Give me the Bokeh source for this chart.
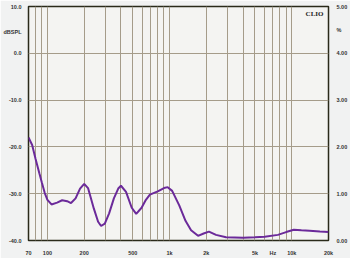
from bokeh.plotting import figure
from bokeh.models import Range1d, LinearAxis, LogAxis, FixedTicker, Label
from bokeh.embed import file_html
from bokeh.resources import INLINE

freq_hz = [70, 75, 80, 86, 90, 95, 100, 108, 120, 132, 145, 156, 170, 185, 200, 215,
           240, 260, 275, 295, 320, 350, 380, 400, 440, 490, 533, 590, 640, 690, 800,
           900, 965, 1050, 1200, 1350, 1500, 1710, 1900, 2100, 2400, 2900, 4000,
           5000, 6000, 7700, 9000, 10400, 12000, 14000, 17000, 20000]
spl_db = [-18.0, -19.6, -22.6, -25.7, -27.6, -29.8, -31.3, -32.3, -31.9, -31.4,
          -31.6, -32.0, -31.0, -28.9, -27.9, -28.8, -33.2, -36.0, -36.9, -36.4,
          -34.2, -31.0, -28.9, -28.3, -29.6, -33.0, -34.3, -33.0, -31.3, -30.2,
          -29.5, -28.8, -28.6, -29.4, -32.5, -35.8, -37.8, -39.0, -38.5, -38.1,
          -38.8, -39.3, -39.4, -39.3, -39.2, -38.8, -38.2, -37.7, -37.8, -37.9,
          -38.1, -38.2]

x_ticks = [70, 100, 200, 500, 1000, 2000, 5000, 7000, 10000, 20000]
x_tick_labels = ["70", "100", "200", "500", "1k", "2k", "5k", "Hz", "10k", "20k"]
x_grid = [80, 90, 100, 200, 300, 400, 500, 600, 700, 800, 900, 1000, 2000, 3000,
          4000, 5000, 6000, 7000, 8000, 9000, 10000, 20000]
y_ticks = [10, 0, -10, -20, -30, -40]
y_tick_labels = ["10.0", "0.0", "-10.0", "-20.0", "-30.0", "-40.0"]
pct_ticks = [0, 1, 2, 3, 4, 5]
pct_tick_labels = ["0.00", "1.00", "2.00", "3.00", "4.00", "5.00"]
y_unit, y_unit_pos = "dBSPL", 4.6
pct_unit, pct_unit_pos = "%", 4.5

FONT = "Liberation Sans"
LBL = "#333333"

p = figure(width=350, height=258, x_axis_type="log", output_backend="svg",
           toolbar_location=None, x_range=Range1d(70, 20000), y_range=Range1d(-40, 10),
           min_border_left=20, min_border_right=17, min_border_top=6, min_border_bottom=13)
p.extra_y_ranges = {"pct": Range1d(0, 5)}
p.background_fill_color = "#f4f4f2"
p.border_fill_color = "#f1f2f2"
p.outline_line_color = "#2a2a1a"
p.outline_line_width = 1.5

p.xaxis.visible = False
p.yaxis.visible = False

def style(ax):
    ax.axis_line_color = None
    ax.major_tick_line_color = None
    ax.minor_tick_line_color = None
    ax.major_label_text_font = FONT
    ax.major_label_text_font_size = "5.5px"
    ax.major_label_text_font_style = "bold"
    ax.major_label_text_color = LBL
    ax.major_label_standoff = 2

xa = LogAxis(ticker=FixedTicker(ticks=x_ticks),
             major_label_overrides={t: l for t, l in zip(x_ticks, x_tick_labels)})
style(xa)
xa.major_label_standoff = 3
p.add_layout(xa, "below")

yl = dict(zip(y_ticks, y_tick_labels))
yl[y_unit_pos] = y_unit
ya = LinearAxis(ticker=FixedTicker(ticks=y_ticks + [y_unit_pos]), major_label_overrides=yl)
style(ya)
ya.major_label_standoff = 1
p.add_layout(ya, "left")

rl = dict(zip(pct_ticks, pct_tick_labels))
rl[pct_unit_pos] = pct_unit
ra = LinearAxis(y_range_name="pct", ticker=FixedTicker(ticks=pct_ticks + [pct_unit_pos]),
                major_label_overrides=rl)
style(ra)
ra.major_label_standoff = 2
p.add_layout(ra, "right")

p.xgrid.ticker = FixedTicker(ticks=x_grid)
p.xgrid.grid_line_color = "#a59c8a"
p.xgrid.grid_line_width = 1
p.ygrid.ticker = FixedTicker(ticks=y_ticks)
p.ygrid.grid_line_color = "#a59c8a"
p.ygrid.grid_line_width = 1

p.line(freq_hz, spl_db, line_color="#6b2a9a", line_width=2)

p.add_layout(Label(x=20000, y=8.5, x_offset=-5, text="CLIO", text_align="right",
                   text_font="Liberation Serif", text_font_size="7px", text_font_style="bold",
                   text_color="#222222", text_baseline="middle"))

open("out.html", "w").write(file_html(p, INLINE))
